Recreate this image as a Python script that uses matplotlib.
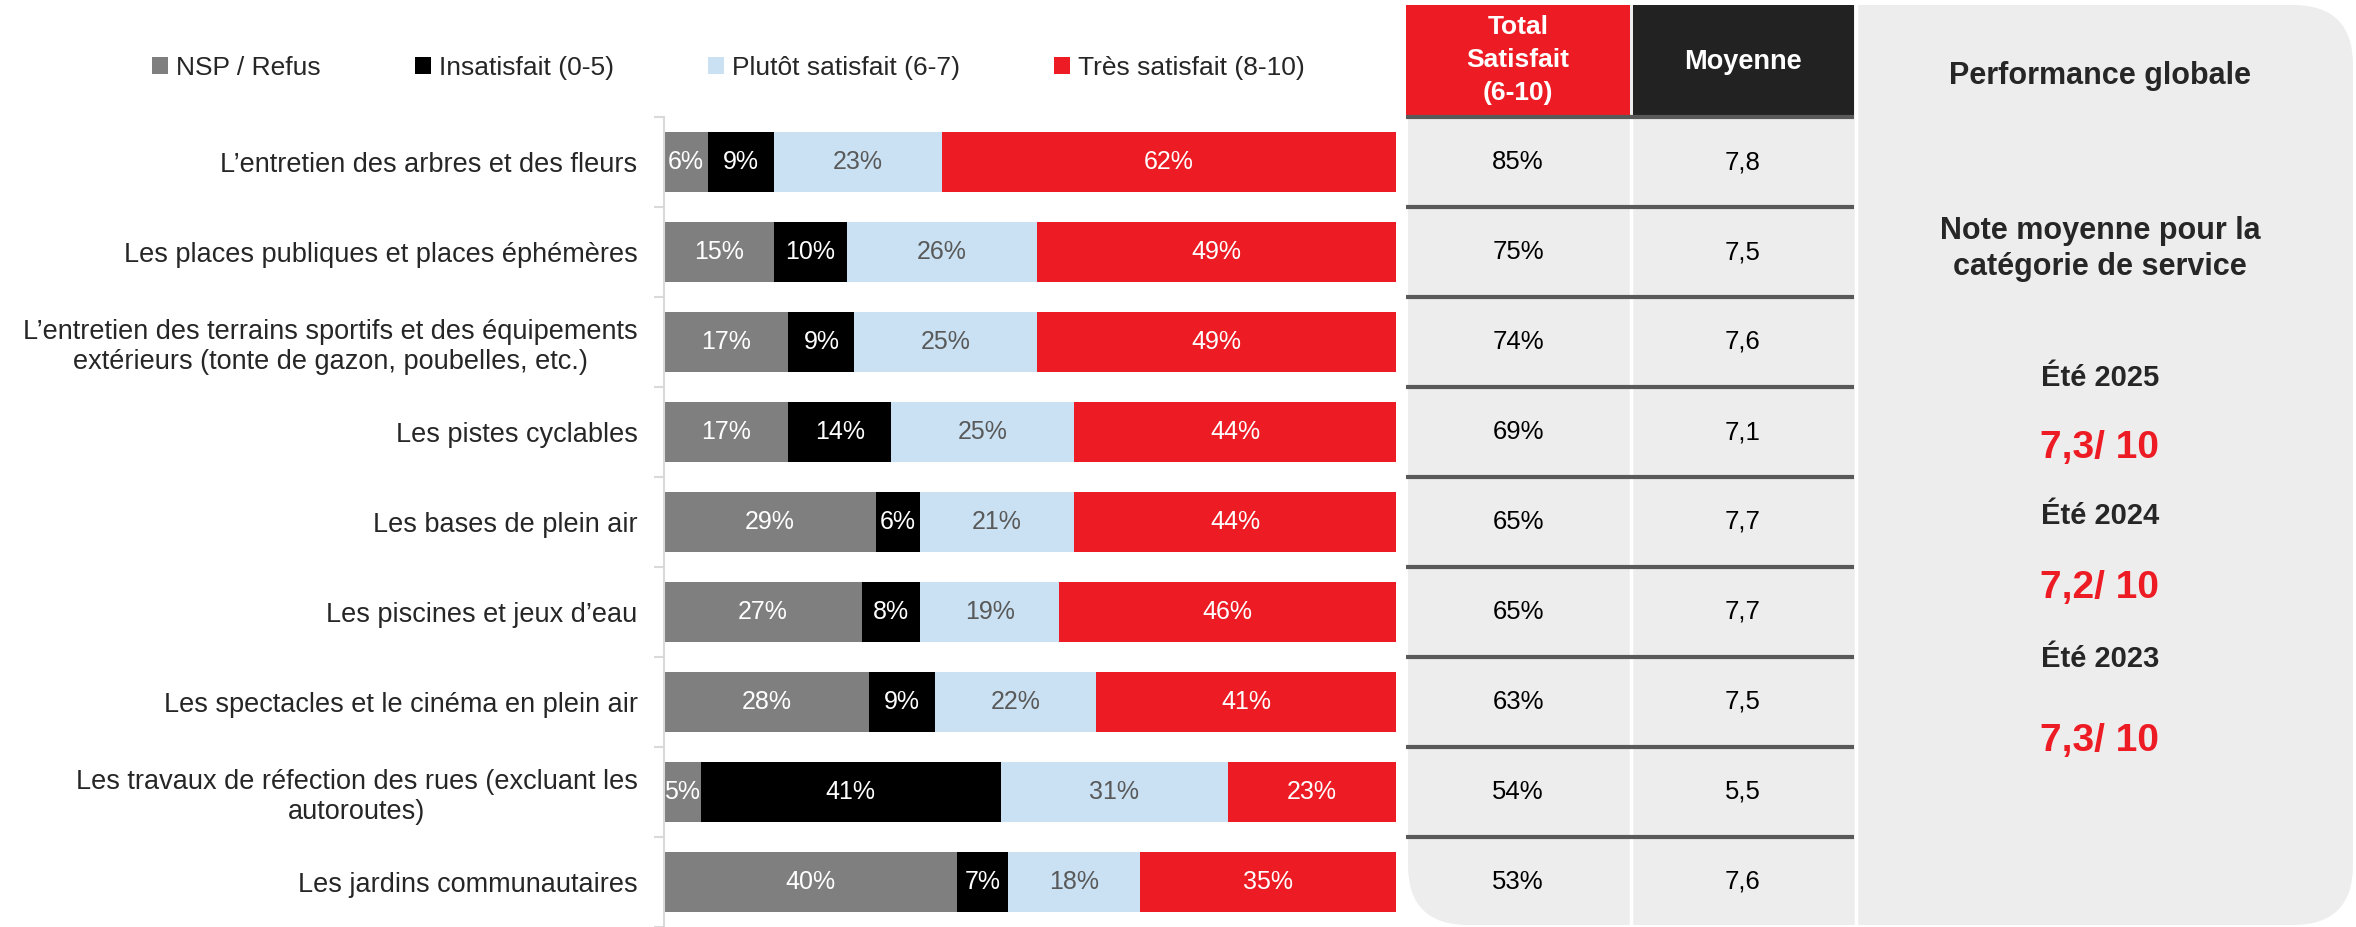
import numpy as np
import matplotlib
matplotlib.use('Agg')
import matplotlib.pyplot as plt
from matplotlib.patches import Rectangle, FancyBboxPatch

plt.rcParams['font.family'] = ['Liberation Sans', 'DejaVu Sans']

# data
categories = [
    "L\u2019entretien des arbres et des fleurs",
    "Les places publiques et places éphémères",
    "L\u2019entretien des terrains sportifs et des équipements\nextérieurs (tonte de gazon, poubelles, etc.)",
    "Les pistes cyclables",
    "Les bases de plein air",
    "Les piscines et jeux d\u2019eau",
    "Les spectacles et le cinéma en plein air",
    "Les travaux de réfection des rues (excluant les\nautoroutes)",
    "Les jardins communautaires",
]
nsp = [6, 15, 17, 17, 29, 27, 28, 5, 40]
insatisfait = [9, 10, 9, 14, 6, 8, 9, 41, 7]
plutot = [23, 26, 25, 25, 21, 19, 22, 31, 18]
tres = [62, 49, 49, 44, 44, 46, 41, 23, 35]
total_satisfait = [85, 75, 74, 69, 65, 65, 63, 54, 53]
moyenne = [7.8, 7.5, 7.6, 7.1, 7.7, 7.7, 7.5, 5.5, 7.6]

series_names = ['NSP / Refus', 'Insatisfait (0-5)', 'Plutôt satisfait (6-7)', 'Très satisfait (8-10)']
periods = ['Été 2025', 'Été 2024', 'Été 2023']
period_scores = [7.3, 7.2, 7.3]

colors = ['#7F7F7F', '#000000', '#C9E1F3', '#ED1C24']
label_colors = ['white', 'white', '#595959', 'white']
RED = '#ED1C24'
DARK = '#262626'

def fr(v):
    return f'{v:.1f}'.replace('.', ',')

W, H = 2356, 927
TOP = 117      # top of the first row (px)
ROW = 90       # row height (px)
n = len(categories)

fig = plt.figure(figsize=(W / 100, H / 100), dpi=100)

# background layer in pixel coords for the table part
bg = fig.add_axes([0, 0, 1, 1])
bg.set_xlim(0, W)
bg.set_ylim(H, 0)
bg.axis('off')

bg.add_patch(FancyBboxPatch((1408, 5), 2353 - 1408, 925 - 5,
                            boxstyle='round,pad=0,rounding_size=60',
                            fc='#EDEDED', ec='none'))
bg.add_patch(Rectangle((1406, 5), 224, TOP - 5, fc=RED, ec='none'))
bg.add_patch(Rectangle((1633, 5), 221, TOP - 5, fc='#222222', ec='none'))
bg.plot([1631, 1631], [TOP, H], color='white', lw=2.5)
bg.plot([1855.5, 1855.5], [0, H], color='white', lw=2.5)
for k in range(n):
    y = TOP + ROW * k
    bg.plot([1406, 1854], [y, y], color='#595959', lw=3, solid_capstyle='butt')

bg.text(1518, 60, 'Total\nSatisfait\n(6-10)', ha='center', va='center', color='white',
        fontsize=19, fontweight='bold', linespacing=1.45)
bg.text(1743, 62, 'Moyenne', ha='center', va='center', color='white',
        fontsize=19.5, fontweight='bold')

for i in range(n):
    yc = TOP + ROW * i + ROW / 2
    bg.text(1518, yc, f'{total_satisfait[i]}%', ha='center', va='center', color='black', fontsize=18.5)
    bg.text(1743, yc, fr(moyenne[i]), ha='center', va='center', color='black', fontsize=18.5)

# performance panel
PX = 2100
bg.text(PX, 76, 'Performance globale', ha='center', va='center', color=DARK,
        fontsize=22, fontweight='bold')
bg.text(PX, 249, 'Note moyenne pour la\ncatégorie de service', ha='center', va='center',
        color=DARK, fontsize=22, fontweight='bold', linespacing=1.3)
period_y = [378, 516, 659]
score_y = [448, 588, 741]
for p, s, yp, ys in zip(periods, period_scores, period_y, score_y):
    bg.text(PX, yp, p, ha='center', va='center', color=DARK, fontsize=21, fontweight='bold')
    bg.text(PX, ys, fr(s) + '/ 10', ha='center', va='center', color=RED,
            fontsize=28, fontweight='bold')

# stacked bars
ax = fig.add_axes([664 / W, 0, (1396 - 664) / W, (H - TOP) / H])
ax.patch.set_alpha(0)
ypos = np.arange(n)
left = np.zeros(n)
handles = []
for vals, c, lc, name in zip([nsp, insatisfait, plutot, tres], colors, label_colors, series_names):
    vals = np.array(vals)
    b = ax.barh(ypos, vals, left=left, height=0.667, color=c, label=name)
    handles.append(b)
    for i, v in enumerate(vals):
        ax.text(left[i] + v / 2, i, f'{v}%', ha='center', va='center', color=lc, fontsize=18)
    left += vals

ax.set_xlim(0, 100)
ax.set_ylim(n - 0.5, -0.5)
for s in ['top', 'right', 'bottom']:
    ax.spines[s].set_visible(False)
ax.spines['left'].set_color('#D9D9D9')
ax.spines['left'].set_linewidth(1.5)
ax.set_xticks([])
ax.set_yticks(ypos)
ax.set_yticklabels(categories, fontsize=19.5, color=DARK)
for t in ax.get_yticklabels():
    t.set_multialignment('center')
ax.tick_params(axis='y', which='major', length=0, pad=19)
ax.set_yticks(np.arange(-0.5, n, 1), minor=True)
ax.tick_params(axis='y', which='minor', length=7, width=1.5, color='#D9D9D9')

fig.legend(handles, series_names, loc='center left', bbox_to_anchor=(152 / W, 1 - 68 / H),
           ncol=4, frameon=False, fontsize=19, handlelength=0.62, handleheight=0.62,
           handletextpad=0.3, columnspacing=3.55, borderaxespad=0, borderpad=0,
           labelcolor=DARK)

fig.savefig('out.png', dpi=100)
